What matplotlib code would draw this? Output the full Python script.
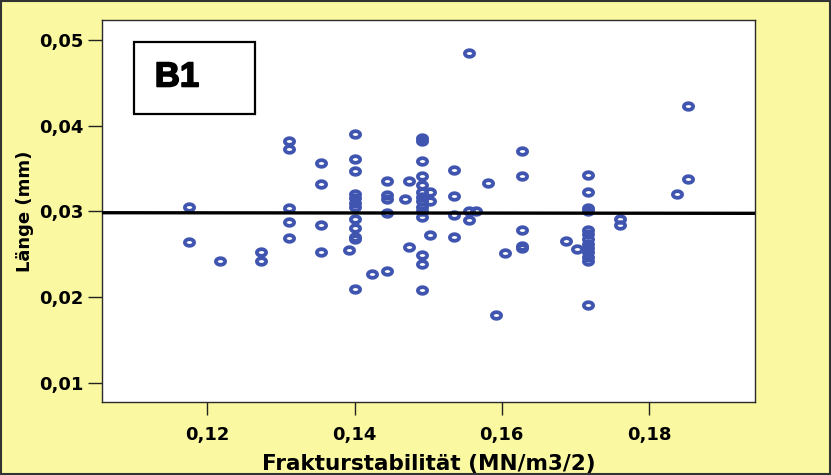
import numpy as np
import matplotlib
matplotlib.use("Agg")
import matplotlib.pyplot as plt
from matplotlib.path import Path
from matplotlib.patches import Rectangle
import matplotlib.patheffects as pe

# ---- data ----
frakturstabilitaet = [
    0.11755, 0.11755,
    0.12173,
    0.12735, 0.12735,
    0.13109, 0.13109, 0.13109, 0.13109, 0.13109,
    0.13551, 0.13551, 0.13551, 0.13551,
    0.13922,
    0.14009, 0.14009, 0.14009, 0.14009, 0.14009, 0.14009, 0.14009, 0.14009,
    0.14009, 0.14009, 0.14009, 0.14009,
    0.14235,
    0.14445, 0.14445, 0.14445, 0.14445, 0.14445,
    0.14684,
    0.14737, 0.14737,
    0.14916, 0.14916, 0.14916, 0.14916, 0.14916, 0.14916, 0.14916, 0.14916,
    0.14916, 0.14916, 0.14916, 0.14916, 0.14916, 0.14916,
    0.15020, 0.15020, 0.15020,
    0.15351, 0.15351, 0.15351, 0.15351,
    0.15551, 0.15551, 0.15551,
    0.15646,
    0.15814,
    0.15928,
    0.16041,
    0.16276, 0.16276, 0.16276, 0.16276, 0.16276,
    0.16878,
    0.17018,
    0.17174, 0.17174, 0.17174, 0.17174, 0.17174, 0.17174, 0.17174, 0.17174,
    0.17174, 0.17174, 0.17174, 0.17174, 0.17174,
    0.17605, 0.17605,
    0.18377,
    0.18535, 0.18535,
]
laenge = [
    0.03056, 0.02648,
    0.02419,
    0.02524, 0.02423,
    0.03822, 0.03725, 0.03037, 0.02878, 0.02691,
    0.03562, 0.03321, 0.02843, 0.02531,
    0.02548,
    0.03904, 0.03609, 0.03476, 0.03204, 0.03154, 0.03096, 0.03049, 0.02909,
    0.02804, 0.02706, 0.02676, 0.02093,
    0.02275,
    0.03350, 0.03189, 0.03140, 0.02979, 0.02310,
    0.03142,
    0.03350, 0.02590,
    0.03854, 0.03826, 0.03592, 0.03418, 0.03309, 0.03231, 0.03169, 0.03122,
    0.03056, 0.03006, 0.02939, 0.02493, 0.02384, 0.02081,
    0.03222, 0.03117, 0.02726,
    0.03480, 0.03183, 0.02957, 0.02706,
    0.04845, 0.03009, 0.02901,
    0.03009,
    0.03336,
    0.01793,
    0.02516,
    0.03706, 0.03418, 0.02781, 0.02601, 0.02578,
    0.02654,
    0.02559,
    0.03429, 0.03224, 0.03037, 0.03009, 0.02784, 0.02732, 0.02676, 0.02621,
    0.02574, 0.02528, 0.02475, 0.02417, 0.01904,
    0.02910, 0.02846,
    0.03201,
    0.04234, 0.03376,
]
fit_intercept = 0.02994
fit_slope = -0.00079

x_ticks = [0.12, 0.14, 0.16, 0.18]
x_tick_labels = ["0,12", "0,14", "0,16", "0,18"]
y_ticks = [0.01, 0.02, 0.03, 0.04, 0.05]
y_tick_labels = ["0,01", "0,02", "0,03", "0,04", "0,05"]
x_label = "Frakturstabilität (MN/m3/2)"
y_label = "Länge (mm)"
panel_label = "B1"

# ---- style ----
BG = "#FAF8A0"
MARKER_COLOR = "#3F55B0"
plt.rcParams["font.family"] = ["DejaVu Sans"]

fig = plt.figure(figsize=(8.31, 4.75), dpi=100, facecolor=BG)
ax = fig.add_axes([102 / 831, 1 - 402.3 / 475, 653 / 831, 382.3 / 475])
ax.set_facecolor("white")

# elliptical ring marker (wider than tall)
t = np.linspace(0, 2 * np.pi, 60)
ell = Path(np.column_stack([np.cos(t), 0.72 * np.sin(t)]), closed=True)

ax.plot(frakturstabilitaet, laenge, linestyle="none", marker=ell,
        markersize=6.6, markerfacecolor="none", markeredgecolor=MARKER_COLOR,
        markeredgewidth=2.7, zorder=3)

ax.set_xlim(0.1057, 0.1944)
ax.set_ylim(0.00775, 0.05233)

xx = np.array(ax.get_xlim())
ax.plot(xx, fit_intercept + fit_slope * xx, color="black", linewidth=2.4,
        zorder=4, solid_capstyle="butt")

ax.set_xticks(x_ticks)
ax.set_xticklabels(x_tick_labels)
ax.set_yticks(y_ticks)
ax.set_yticklabels(y_tick_labels)
ax.tick_params(axis="both", direction="out", colors="#222222", width=1.0,
               labelsize=13, pad=3)
ax.tick_params(axis="y", length=10)
ax.tick_params(axis="x", length=9, pad=8)
for lab in ax.get_xticklabels() + ax.get_yticklabels():
    lab.set_fontweight("bold")
    lab.set_color("black")

for sp in ax.spines.values():
    sp.set_color("#2a2a2a")
    sp.set_linewidth(1.0)

ax.set_xlabel(x_label, fontsize=15.5, fontweight="bold", labelpad=7)
ax.set_ylabel(y_label, fontsize=13, fontweight="bold", labelpad=4)

# panel label box
ax.add_patch(Rectangle((0.0495, 0.7541), 0.1853, 0.1884, transform=ax.transAxes,
                       facecolor="white", edgecolor="black", linewidth=1.6,
                       zorder=5))
ax.text(0.1149, 0.851, panel_label, transform=ax.transAxes, ha="center",
        va="center", fontsize=25, fontweight="bold", fontfamily="Liberation Sans",
        zorder=6,
        path_effects=[pe.withStroke(linewidth=1.2, foreground="black")])

# figure border
fig.patches.append(Rectangle((0.001, 0.002), 0.998, 0.996, transform=fig.transFigure,
                             facecolor="none", edgecolor="#333333", linewidth=1.5))

fig.savefig("out.png", dpi=100, facecolor=BG)
